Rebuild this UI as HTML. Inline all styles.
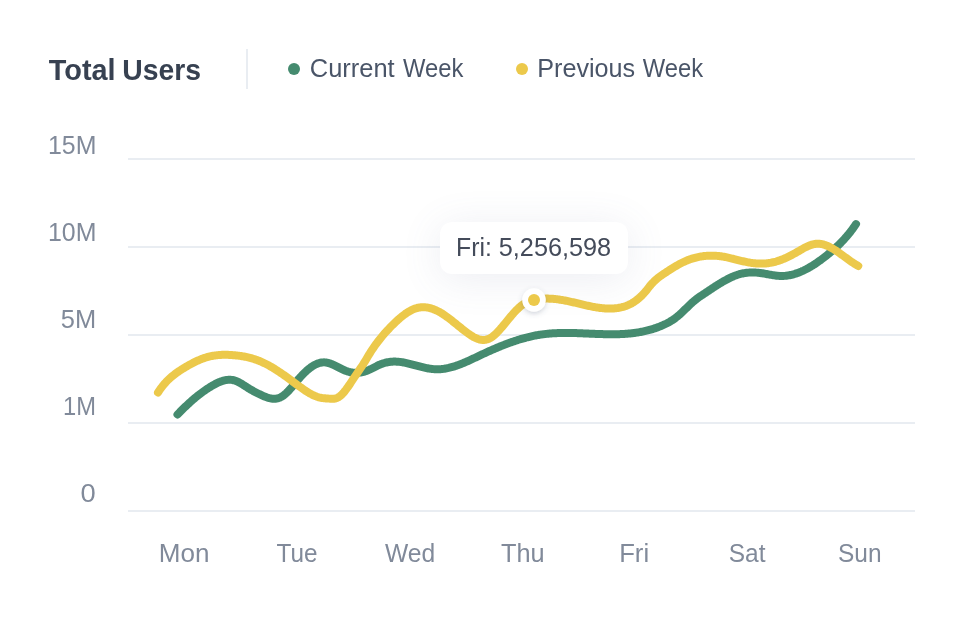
<!DOCTYPE html>
<html><head><meta charset="utf-8">
<style>
html,body{margin:0;padding:0;background:#fff;}
body{width:964px;height:620px;position:relative;overflow:hidden;font-family:"Liberation Sans",sans-serif;}
svg{position:absolute;left:0;top:0;will-change:transform;}
.tip{position:absolute;left:440px;top:222px;width:188px;height:52px;background:#fff;border-radius:12px;
box-shadow:0 5px 40px rgba(95,105,145,0.12);}
</style></head><body>
<svg width="964" height="620" viewBox="0 0 964 620" font-family="Liberation Sans, sans-serif">
<rect x="246" y="49" width="2" height="40" fill="#e9edf2"/>
<circle cx="294" cy="69" r="6" fill="#458b6f"/>
<circle cx="522" cy="69" r="6" fill="#ecc94b"/>
<g fill="#e9edf2">
<rect x="128" y="158" width="787" height="2"/>
<rect x="128" y="246" width="787" height="2"/>
<rect x="128" y="334" width="787" height="2"/>
<rect x="128" y="422" width="787" height="2"/>
<rect x="128" y="510" width="787" height="2"/>
</g>
<text x="48.86" y="79.6" font-size="29.5" font-weight="700" fill="#374151" textLength="66.73" lengthAdjust="spacingAndGlyphs">Total</text>
<text x="122.32" y="79.6" font-size="29.5" font-weight="700" fill="#374151" textLength="78.76" lengthAdjust="spacingAndGlyphs">Users</text>
<text x="309.83" y="76.7" font-size="25" font-weight="400" fill="#4a5568" textLength="84.80" lengthAdjust="spacingAndGlyphs">Current</text>
<text x="403.00" y="76.7" font-size="25" font-weight="400" fill="#4a5568" textLength="60.36" lengthAdjust="spacingAndGlyphs">Week</text>
<text x="537.29" y="76.7" font-size="25" font-weight="400" fill="#4a5568" textLength="97.88" lengthAdjust="spacingAndGlyphs">Previous</text>
<text x="642.70" y="76.7" font-size="25" font-weight="400" fill="#4a5568" textLength="60.36" lengthAdjust="spacingAndGlyphs">Week</text>
<text x="47.96" y="153.9" font-size="25" font-weight="400" fill="#818a9a" textLength="48.42" lengthAdjust="spacingAndGlyphs">15M</text>
<text x="47.96" y="241.2" font-size="25" font-weight="400" fill="#818a9a" textLength="48.42" lengthAdjust="spacingAndGlyphs">10M</text>
<text x="60.78" y="328.0" font-size="25" font-weight="400" fill="#818a9a" textLength="35.34" lengthAdjust="spacingAndGlyphs">5M</text>
<text x="63.04" y="415.1" font-size="25" font-weight="400" fill="#818a9a" textLength="32.94" lengthAdjust="spacingAndGlyphs">1M</text>
<text x="80.61" y="502.0" font-size="25" font-weight="400" fill="#818a9a" textLength="15.18" lengthAdjust="spacingAndGlyphs">0</text>
<text x="158.72" y="562.2" font-size="25" font-weight="400" fill="#818a9a" textLength="50.69" lengthAdjust="spacingAndGlyphs">Mon</text>
<text x="276.51" y="562.2" font-size="25" font-weight="400" fill="#818a9a" textLength="40.97" lengthAdjust="spacingAndGlyphs">Tue</text>
<text x="385.00" y="562.2" font-size="25" font-weight="400" fill="#818a9a" textLength="50.23" lengthAdjust="spacingAndGlyphs">Wed</text>
<text x="500.99" y="562.2" font-size="25" font-weight="400" fill="#818a9a" textLength="43.62" lengthAdjust="spacingAndGlyphs">Thu</text>
<text x="619.15" y="562.2" font-size="25" font-weight="400" fill="#818a9a" textLength="29.96" lengthAdjust="spacingAndGlyphs">Fri</text>
<text x="728.72" y="562.2" font-size="25" font-weight="400" fill="#818a9a" textLength="36.71" lengthAdjust="spacingAndGlyphs">Sat</text>
<text x="838.02" y="562.2" font-size="25" font-weight="400" fill="#818a9a" textLength="43.53" lengthAdjust="spacingAndGlyphs">Sun</text>
<g fill="none" stroke-width="8" stroke-linecap="round" stroke-linejoin="round">
<path d="M177.5,414.49 L178.5,413.46 L179.5,412.43 L180.5,411.41 L181.5,410.41 L182.5,409.41 L183.5,408.43 L184.5,407.46 L185.5,406.50 L186.5,405.55 L187.5,404.61 L188.5,403.69 L189.5,402.77 L190.5,401.87 L191.5,400.99 L192.5,400.11 L193.5,399.25 L194.5,398.40 L195.5,397.56 L196.5,396.74 L197.5,395.93 L198.5,395.14 L199.5,394.36 L200.5,393.59 L201.5,392.84 L202.5,392.10 L203.5,391.37 L204.5,390.66 L205.5,389.97 L206.5,389.29 L207.5,388.63 L208.5,387.98 L209.5,387.35 L210.5,386.73 L211.5,386.13 L212.5,385.54 L213.5,384.98 L214.5,384.43 L215.5,383.90 L216.5,383.39 L217.5,382.90 L218.5,382.45 L219.5,382.02 L220.5,381.62 L221.5,381.26 L222.5,380.93 L223.5,380.63 L224.5,380.38 L225.5,380.17 L226.5,380.00 L227.5,379.87 L228.5,379.80 L229.5,379.77 L230.5,379.80 L231.5,379.88 L232.5,380.01 L233.5,380.21 L234.5,380.46 L235.5,380.78 L236.5,381.16 L237.5,381.60 L238.5,382.09 L239.5,382.62 L240.5,383.19 L241.5,383.79 L242.5,384.41 L243.5,385.05 L244.5,385.70 L245.5,386.34 L246.5,386.98 L247.5,387.61 L248.5,388.23 L249.5,388.84 L250.5,389.43 L251.5,390.01 L252.5,390.58 L253.5,391.14 L254.5,391.69 L255.5,392.22 L256.5,392.74 L257.5,393.25 L258.5,393.75 L259.5,394.23 L260.5,394.71 L261.5,395.17 L262.5,395.62 L263.5,396.05 L264.5,396.47 L265.5,396.87 L266.5,397.24 L267.5,397.58 L268.5,397.88 L269.5,398.15 L270.5,398.37 L271.5,398.55 L272.5,398.67 L273.5,398.73 L274.5,398.74 L275.5,398.68 L276.5,398.55 L277.5,398.36 L278.5,398.08 L279.5,397.73 L280.5,397.30 L281.5,396.78 L282.5,396.17 L283.5,395.47 L284.5,394.70 L285.5,393.84 L286.5,392.92 L287.5,391.94 L288.5,390.91 L289.5,389.83 L290.5,388.71 L291.5,387.56 L292.5,386.38 L293.5,385.19 L294.5,383.99 L295.5,382.78 L296.5,381.57 L297.5,380.38 L298.5,379.20 L299.5,378.05 L300.5,376.92 L301.5,375.83 L302.5,374.77 L303.5,373.74 L304.5,372.74 L305.5,371.78 L306.5,370.86 L307.5,369.98 L308.5,369.14 L309.5,368.34 L310.5,367.58 L311.5,366.87 L312.5,366.20 L313.5,365.59 L314.5,365.02 L315.5,364.50 L316.5,364.03 L317.5,363.62 L318.5,363.27 L319.5,362.97 L320.5,362.73 L321.5,362.54 L322.5,362.42 L323.5,362.37 L324.5,362.37 L325.5,362.44 L326.5,362.58 L327.5,362.77 L328.5,363.01 L329.5,363.30 L330.5,363.64 L331.5,364.02 L332.5,364.43 L333.5,364.86 L334.5,365.33 L335.5,365.81 L336.5,366.31 L337.5,366.82 L338.5,367.33 L339.5,367.85 L340.5,368.36 L341.5,368.86 L342.5,369.35 L343.5,369.82 L344.5,370.27 L345.5,370.69 L346.5,371.08 L347.5,371.43 L348.5,371.74 L349.5,372.01 L350.5,372.24 L351.5,372.43 L352.5,372.58 L353.5,372.70 L354.5,372.77 L355.5,372.81 L356.5,372.82 L357.5,372.78 L358.5,372.71 L359.5,372.60 L360.5,372.46 L361.5,372.29 L362.5,372.08 L363.5,371.83 L364.5,371.56 L365.5,371.25 L366.5,370.91 L367.5,370.54 L368.5,370.13 L369.5,369.70 L370.5,369.24 L371.5,368.75 L372.5,368.25 L373.5,367.73 L374.5,367.21 L375.5,366.70 L376.5,366.19 L377.5,365.69 L378.5,365.22 L379.5,364.77 L380.5,364.35 L381.5,363.97 L382.5,363.61 L383.5,363.29 L384.5,362.99 L385.5,362.72 L386.5,362.48 L387.5,362.28 L388.5,362.10 L389.5,361.94 L390.5,361.82 L391.5,361.72 L392.5,361.66 L393.5,361.62 L394.5,361.60 L395.5,361.61 L396.5,361.65 L397.5,361.71 L398.5,361.79 L399.5,361.89 L400.5,362.01 L401.5,362.15 L402.5,362.30 L403.5,362.47 L404.5,362.66 L405.5,362.86 L406.5,363.07 L407.5,363.29 L408.5,363.53 L409.5,363.77 L410.5,364.02 L411.5,364.27 L412.5,364.53 L413.5,364.80 L414.5,365.07 L415.5,365.34 L416.5,365.61 L417.5,365.87 L418.5,366.14 L419.5,366.41 L420.5,366.67 L421.5,366.92 L422.5,367.17 L423.5,367.41 L424.5,367.64 L425.5,367.86 L426.5,368.07 L427.5,368.27 L428.5,368.45 L429.5,368.62 L430.5,368.77 L431.5,368.91 L432.5,369.02 L433.5,369.12 L434.5,369.20 L435.5,369.25 L436.5,369.29 L437.5,369.29 L438.5,369.28 L439.5,369.24 L440.5,369.18 L441.5,369.10 L442.5,368.99 L443.5,368.87 L444.5,368.72 L445.5,368.56 L446.5,368.38 L447.5,368.17 L448.5,367.96 L449.5,367.72 L450.5,367.47 L451.5,367.20 L452.5,366.92 L453.5,366.62 L454.5,366.31 L455.5,365.98 L456.5,365.64 L457.5,365.29 L458.5,364.93 L459.5,364.55 L460.5,364.17 L461.5,363.77 L462.5,363.37 L463.5,362.96 L464.5,362.54 L465.5,362.11 L466.5,361.67 L467.5,361.23 L468.5,360.78 L469.5,360.33 L470.5,359.87 L471.5,359.41 L472.5,358.94 L473.5,358.47 L474.5,358.00 L475.5,357.53 L476.5,357.05 L477.5,356.58 L478.5,356.10 L479.5,355.63 L480.5,355.16 L481.5,354.69 L482.5,354.22 L483.5,353.75 L484.5,353.29 L485.5,352.82 L486.5,352.37 L487.5,351.91 L488.5,351.46 L489.5,351.01 L490.5,350.56 L491.5,350.12 L492.5,349.68 L493.5,349.24 L494.5,348.81 L495.5,348.38 L496.5,347.96 L497.5,347.54 L498.5,347.12 L499.5,346.71 L500.5,346.30 L501.5,345.90 L502.5,345.50 L503.5,345.10 L504.5,344.71 L505.5,344.33 L506.5,343.95 L507.5,343.57 L508.5,343.20 L509.5,342.83 L510.5,342.47 L511.5,342.12 L512.5,341.77 L513.5,341.43 L514.5,341.09 L515.5,340.76 L516.5,340.43 L517.5,340.11 L518.5,339.80 L519.5,339.49 L520.5,339.19 L521.5,338.89 L522.5,338.60 L523.5,338.32 L524.5,338.04 L525.5,337.78 L526.5,337.51 L527.5,337.26 L528.5,337.01 L529.5,336.77 L530.5,336.54 L531.5,336.31 L532.5,336.09 L533.5,335.88 L534.5,335.68 L535.5,335.49 L536.5,335.30 L537.5,335.12 L538.5,334.95 L539.5,334.79 L540.5,334.63 L541.5,334.49 L542.5,334.35 L543.5,334.22 L544.5,334.10 L545.5,333.98 L546.5,333.87 L547.5,333.77 L548.5,333.67 L549.5,333.59 L550.5,333.50 L551.5,333.43 L552.5,333.36 L553.5,333.30 L554.5,333.24 L555.5,333.19 L556.5,333.14 L557.5,333.10 L558.5,333.06 L559.5,333.03 L560.5,333.01 L561.5,332.99 L562.5,332.97 L563.5,332.96 L564.5,332.95 L565.5,332.95 L566.5,332.95 L567.5,332.95 L568.5,332.96 L569.5,332.97 L570.5,332.98 L571.5,333.00 L572.5,333.02 L573.5,333.04 L574.5,333.07 L575.5,333.09 L576.5,333.12 L577.5,333.15 L578.5,333.19 L579.5,333.22 L580.5,333.26 L581.5,333.30 L582.5,333.34 L583.5,333.38 L584.5,333.42 L585.5,333.46 L586.5,333.50 L587.5,333.54 L588.5,333.59 L589.5,333.63 L590.5,333.67 L591.5,333.72 L592.5,333.76 L593.5,333.80 L594.5,333.84 L595.5,333.88 L596.5,333.92 L597.5,333.96 L598.5,334.00 L599.5,334.03 L600.5,334.06 L601.5,334.10 L602.5,334.12 L603.5,334.15 L604.5,334.18 L605.5,334.20 L606.5,334.22 L607.5,334.23 L608.5,334.25 L609.5,334.26 L610.5,334.26 L611.5,334.27 L612.5,334.27 L613.5,334.26 L614.5,334.25 L615.5,334.24 L616.5,334.22 L617.5,334.20 L618.5,334.17 L619.5,334.14 L620.5,334.10 L621.5,334.06 L622.5,334.01 L623.5,333.96 L624.5,333.90 L625.5,333.83 L626.5,333.76 L627.5,333.68 L628.5,333.59 L629.5,333.50 L630.5,333.40 L631.5,333.29 L632.5,333.18 L633.5,333.05 L634.5,332.92 L635.5,332.79 L636.5,332.64 L637.5,332.49 L638.5,332.32 L639.5,332.15 L640.5,331.97 L641.5,331.78 L642.5,331.58 L643.5,331.38 L644.5,331.16 L645.5,330.93 L646.5,330.69 L647.5,330.45 L648.5,330.19 L649.5,329.92 L650.5,329.64 L651.5,329.35 L652.5,329.05 L653.5,328.74 L654.5,328.41 L655.5,328.08 L656.5,327.73 L657.5,327.37 L658.5,327.00 L659.5,326.62 L660.5,326.22 L661.5,325.81 L662.5,325.39 L663.5,324.95 L664.5,324.49 L665.5,324.01 L666.5,323.52 L667.5,323.00 L668.5,322.46 L669.5,321.90 L670.5,321.31 L671.5,320.69 L672.5,320.05 L673.5,319.38 L674.5,318.67 L675.5,317.94 L676.5,317.17 L677.5,316.37 L678.5,315.53 L679.5,314.66 L680.5,313.76 L681.5,312.83 L682.5,311.89 L683.5,310.93 L684.5,309.96 L685.5,308.98 L686.5,308.01 L687.5,307.03 L688.5,306.06 L689.5,305.10 L690.5,304.16 L691.5,303.23 L692.5,302.33 L693.5,301.46 L694.5,300.61 L695.5,299.80 L696.5,299.01 L697.5,298.26 L698.5,297.54 L699.5,296.83 L700.5,296.14 L701.5,295.47 L702.5,294.81 L703.5,294.15 L704.5,293.49 L705.5,292.83 L706.5,292.16 L707.5,291.50 L708.5,290.83 L709.5,290.17 L710.5,289.50 L711.5,288.84 L712.5,288.18 L713.5,287.52 L714.5,286.87 L715.5,286.22 L716.5,285.58 L717.5,284.94 L718.5,284.32 L719.5,283.70 L720.5,283.08 L721.5,282.48 L722.5,281.89 L723.5,281.31 L724.5,280.74 L725.5,280.19 L726.5,279.65 L727.5,279.12 L728.5,278.61 L729.5,278.11 L730.5,277.63 L731.5,277.17 L732.5,276.73 L733.5,276.30 L734.5,275.90 L735.5,275.51 L736.5,275.15 L737.5,274.81 L738.5,274.49 L739.5,274.20 L740.5,273.93 L741.5,273.69 L742.5,273.47 L743.5,273.27 L744.5,273.10 L745.5,272.94 L746.5,272.81 L747.5,272.71 L748.5,272.62 L749.5,272.55 L750.5,272.50 L751.5,272.48 L752.5,272.47 L753.5,272.48 L754.5,272.51 L755.5,272.55 L756.5,272.62 L757.5,272.70 L758.5,272.79 L759.5,272.90 L760.5,273.03 L761.5,273.17 L762.5,273.32 L763.5,273.48 L764.5,273.65 L765.5,273.83 L766.5,274.02 L767.5,274.20 L768.5,274.39 L769.5,274.57 L770.5,274.75 L771.5,274.93 L772.5,275.10 L773.5,275.26 L774.5,275.41 L775.5,275.55 L776.5,275.67 L777.5,275.77 L778.5,275.86 L779.5,275.92 L780.5,275.96 L781.5,275.98 L782.5,275.97 L783.5,275.93 L784.5,275.87 L785.5,275.79 L786.5,275.68 L787.5,275.55 L788.5,275.40 L789.5,275.22 L790.5,275.02 L791.5,274.80 L792.5,274.55 L793.5,274.28 L794.5,274.00 L795.5,273.69 L796.5,273.36 L797.5,273.01 L798.5,272.64 L799.5,272.25 L800.5,271.84 L801.5,271.42 L802.5,270.97 L803.5,270.51 L804.5,270.02 L805.5,269.52 L806.5,269.01 L807.5,268.47 L808.5,267.92 L809.5,267.36 L810.5,266.77 L811.5,266.17 L812.5,265.56 L813.5,264.93 L814.5,264.29 L815.5,263.63 L816.5,262.96 L817.5,262.27 L818.5,261.57 L819.5,260.86 L820.5,260.14 L821.5,259.40 L822.5,258.65 L823.5,257.89 L824.5,257.12 L825.5,256.34 L826.5,255.55 L827.5,254.74 L828.5,253.93 L829.5,253.11 L830.5,252.27 L831.5,251.43 L832.5,250.57 L833.5,249.69 L834.5,248.80 L835.5,247.90 L836.5,246.97 L837.5,246.03 L838.5,245.07 L839.5,244.09 L840.5,243.09 L841.5,242.06 L842.5,241.02 L843.5,239.95 L844.5,238.85 L845.5,237.72 L846.5,236.57 L847.5,235.40 L848.5,234.19 L849.5,232.95 L850.5,231.68 L851.5,230.38 L852.5,229.04 L853.5,227.67 L854.5,226.27 L855.5,224.83 L856.0,224.10" stroke="#458b6f"/>
<path d="M158.0,392.42 L159.0,390.92 L160.0,389.49 L161.0,388.12 L162.0,386.81 L163.0,385.55 L164.0,384.35 L165.0,383.19 L166.0,382.09 L167.0,381.04 L168.0,380.03 L169.0,379.06 L170.0,378.13 L171.0,377.24 L172.0,376.38 L173.0,375.56 L174.0,374.77 L175.0,374.01 L176.0,373.27 L177.0,372.55 L178.0,371.86 L179.0,371.18 L180.0,370.52 L181.0,369.88 L182.0,369.24 L183.0,368.62 L184.0,368.00 L185.0,367.40 L186.0,366.80 L187.0,366.21 L188.0,365.63 L189.0,365.06 L190.0,364.50 L191.0,363.96 L192.0,363.42 L193.0,362.90 L194.0,362.39 L195.0,361.90 L196.0,361.42 L197.0,360.95 L198.0,360.50 L199.0,360.06 L200.0,359.64 L201.0,359.24 L202.0,358.85 L203.0,358.48 L204.0,358.13 L205.0,357.79 L206.0,357.47 L207.0,357.18 L208.0,356.90 L209.0,356.64 L210.0,356.40 L211.0,356.18 L212.0,355.98 L213.0,355.79 L214.0,355.63 L215.0,355.48 L216.0,355.35 L217.0,355.23 L218.0,355.13 L219.0,355.04 L220.0,354.97 L221.0,354.91 L222.0,354.87 L223.0,354.84 L224.0,354.82 L225.0,354.82 L226.0,354.82 L227.0,354.84 L228.0,354.87 L229.0,354.91 L230.0,354.95 L231.0,355.01 L232.0,355.08 L233.0,355.15 L234.0,355.23 L235.0,355.32 L236.0,355.42 L237.0,355.53 L238.0,355.65 L239.0,355.77 L240.0,355.91 L241.0,356.05 L242.0,356.21 L243.0,356.38 L244.0,356.56 L245.0,356.75 L246.0,356.95 L247.0,357.17 L248.0,357.39 L249.0,357.63 L250.0,357.89 L251.0,358.15 L252.0,358.44 L253.0,358.73 L254.0,359.04 L255.0,359.37 L256.0,359.71 L257.0,360.06 L258.0,360.44 L259.0,360.82 L260.0,361.23 L261.0,361.65 L262.0,362.09 L263.0,362.55 L264.0,363.02 L265.0,363.51 L266.0,364.01 L267.0,364.53 L268.0,365.06 L269.0,365.60 L270.0,366.16 L271.0,366.74 L272.0,367.32 L273.0,367.92 L274.0,368.53 L275.0,369.15 L276.0,369.78 L277.0,370.42 L278.0,371.07 L279.0,371.73 L280.0,372.40 L281.0,373.07 L282.0,373.76 L283.0,374.45 L284.0,375.15 L285.0,375.85 L286.0,376.57 L287.0,377.29 L288.0,378.01 L289.0,378.74 L290.0,379.47 L291.0,380.20 L292.0,380.94 L293.0,381.69 L294.0,382.43 L295.0,383.18 L296.0,383.93 L297.0,384.67 L298.0,385.42 L299.0,386.16 L300.0,386.89 L301.0,387.61 L302.0,388.33 L303.0,389.03 L304.0,389.72 L305.0,390.40 L306.0,391.06 L307.0,391.70 L308.0,392.32 L309.0,392.92 L310.0,393.49 L311.0,394.04 L312.0,394.56 L313.0,395.05 L314.0,395.52 L315.0,395.95 L316.0,396.34 L317.0,396.70 L318.0,397.03 L319.0,397.31 L320.0,397.56 L321.0,397.77 L322.0,397.95 L323.0,398.10 L324.0,398.23 L325.0,398.34 L326.0,398.43 L327.0,398.51 L328.0,398.57 L329.0,398.63 L330.0,398.69 L331.0,398.74 L332.0,398.77 L333.0,398.76 L334.0,398.70 L335.0,398.56 L336.0,398.33 L337.0,397.98 L338.0,397.50 L339.0,396.89 L340.0,396.15 L341.0,395.29 L342.0,394.33 L343.0,393.26 L344.0,392.11 L345.0,390.88 L346.0,389.58 L347.0,388.23 L348.0,386.82 L349.0,385.37 L350.0,383.89 L351.0,382.39 L352.0,380.88 L353.0,379.36 L354.0,377.86 L355.0,376.37 L356.0,374.90 L357.0,373.45 L358.0,372.00 L359.0,370.54 L360.0,369.08 L361.0,367.60 L362.0,366.10 L363.0,364.56 L364.0,362.98 L365.0,361.35 L366.0,359.68 L367.0,357.99 L368.0,356.30 L369.0,354.65 L370.0,353.04 L371.0,351.47 L372.0,349.93 L373.0,348.44 L374.0,346.98 L375.0,345.55 L376.0,344.16 L377.0,342.81 L378.0,341.48 L379.0,340.19 L380.0,338.92 L381.0,337.68 L382.0,336.47 L383.0,335.28 L384.0,334.12 L385.0,332.98 L386.0,331.87 L387.0,330.77 L388.0,329.70 L389.0,328.64 L390.0,327.60 L391.0,326.57 L392.0,325.56 L393.0,324.56 L394.0,323.58 L395.0,322.61 L396.0,321.66 L397.0,320.73 L398.0,319.82 L399.0,318.93 L400.0,318.06 L401.0,317.22 L402.0,316.40 L403.0,315.60 L404.0,314.84 L405.0,314.10 L406.0,313.40 L407.0,312.72 L408.0,312.08 L409.0,311.47 L410.0,310.90 L411.0,310.36 L412.0,309.87 L413.0,309.41 L414.0,308.99 L415.0,308.62 L416.0,308.29 L417.0,308.00 L418.0,307.76 L419.0,307.57 L420.0,307.41 L421.0,307.30 L422.0,307.24 L423.0,307.21 L424.0,307.23 L425.0,307.28 L426.0,307.37 L427.0,307.51 L428.0,307.67 L429.0,307.88 L430.0,308.12 L431.0,308.40 L432.0,308.71 L433.0,309.05 L434.0,309.43 L435.0,309.84 L436.0,310.28 L437.0,310.75 L438.0,311.25 L439.0,311.77 L440.0,312.33 L441.0,312.91 L442.0,313.52 L443.0,314.16 L444.0,314.81 L445.0,315.49 L446.0,316.19 L447.0,316.91 L448.0,317.65 L449.0,318.40 L450.0,319.16 L451.0,319.94 L452.0,320.72 L453.0,321.52 L454.0,322.32 L455.0,323.13 L456.0,323.94 L457.0,324.75 L458.0,325.56 L459.0,326.38 L460.0,327.19 L461.0,327.99 L462.0,328.79 L463.0,329.58 L464.0,330.37 L465.0,331.14 L466.0,331.90 L467.0,332.64 L468.0,333.37 L469.0,334.08 L470.0,334.76 L471.0,335.42 L472.0,336.05 L473.0,336.64 L474.0,337.20 L475.0,337.71 L476.0,338.18 L477.0,338.61 L478.0,338.98 L479.0,339.30 L480.0,339.56 L481.0,339.75 L482.0,339.89 L483.0,339.96 L484.0,339.95 L485.0,339.87 L486.0,339.71 L487.0,339.47 L488.0,339.15 L489.0,338.73 L490.0,338.23 L491.0,337.64 L492.0,336.97 L493.0,336.22 L494.0,335.41 L495.0,334.53 L496.0,333.59 L497.0,332.60 L498.0,331.56 L499.0,330.48 L500.0,329.37 L501.0,328.22 L502.0,327.05 L503.0,325.86 L504.0,324.65 L505.0,323.44 L506.0,322.21 L507.0,320.99 L508.0,319.76 L509.0,318.55 L510.0,317.34 L511.0,316.15 L512.0,314.97 L513.0,313.82 L514.0,312.70 L515.0,311.60 L516.0,310.54 L517.0,309.52 L518.0,308.55 L519.0,307.61 L520.0,306.74 L521.0,305.91 L522.0,305.14 L523.0,304.44 L524.0,303.80 L525.0,303.22 L526.0,302.69 L527.0,302.22 L528.0,301.79 L529.0,301.40 L530.0,301.05 L531.0,300.74 L532.0,300.45 L533.0,300.20 L534.0,299.97 L535.0,299.75 L536.0,299.56 L537.0,299.39 L538.0,299.23 L539.0,299.09 L540.0,298.97 L541.0,298.87 L542.0,298.79 L543.0,298.72 L544.0,298.67 L545.0,298.63 L546.0,298.61 L547.0,298.60 L548.0,298.61 L549.0,298.63 L550.0,298.67 L551.0,298.71 L552.0,298.78 L553.0,298.85 L554.0,298.93 L555.0,299.03 L556.0,299.14 L557.0,299.26 L558.0,299.39 L559.0,299.53 L560.0,299.67 L561.0,299.83 L562.0,300.00 L563.0,300.17 L564.0,300.35 L565.0,300.54 L566.0,300.74 L567.0,300.94 L568.0,301.15 L569.0,301.36 L570.0,301.58 L571.0,301.80 L572.0,302.03 L573.0,302.26 L574.0,302.49 L575.0,302.73 L576.0,302.96 L577.0,303.20 L578.0,303.44 L579.0,303.68 L580.0,303.92 L581.0,304.16 L582.0,304.40 L583.0,304.63 L584.0,304.87 L585.0,305.10 L586.0,305.33 L587.0,305.55 L588.0,305.77 L589.0,305.99 L590.0,306.20 L591.0,306.40 L592.0,306.60 L593.0,306.80 L594.0,306.98 L595.0,307.16 L596.0,307.33 L597.0,307.49 L598.0,307.64 L599.0,307.78 L600.0,307.91 L601.0,308.03 L602.0,308.14 L603.0,308.24 L604.0,308.33 L605.0,308.40 L606.0,308.46 L607.0,308.51 L608.0,308.54 L609.0,308.56 L610.0,308.56 L611.0,308.55 L612.0,308.52 L613.0,308.47 L614.0,308.41 L615.0,308.33 L616.0,308.23 L617.0,308.11 L618.0,307.97 L619.0,307.80 L620.0,307.62 L621.0,307.41 L622.0,307.18 L623.0,306.91 L624.0,306.62 L625.0,306.30 L626.0,305.95 L627.0,305.57 L628.0,305.16 L629.0,304.71 L630.0,304.23 L631.0,303.71 L632.0,303.15 L633.0,302.56 L634.0,301.92 L635.0,301.24 L636.0,300.53 L637.0,299.77 L638.0,298.96 L639.0,298.11 L640.0,297.22 L641.0,296.29 L642.0,295.30 L643.0,294.27 L644.0,293.20 L645.0,292.07 L646.0,290.90 L647.0,289.67 L648.0,288.40 L649.0,287.11 L650.0,285.85 L651.0,284.65 L652.0,283.53 L653.0,282.46 L654.0,281.46 L655.0,280.51 L656.0,279.61 L657.0,278.75 L658.0,277.93 L659.0,277.15 L660.0,276.40 L661.0,275.68 L662.0,274.98 L663.0,274.29 L664.0,273.62 L665.0,272.95 L666.0,272.29 L667.0,271.63 L668.0,270.98 L669.0,270.33 L670.0,269.69 L671.0,269.05 L672.0,268.42 L673.0,267.80 L674.0,267.19 L675.0,266.59 L676.0,266.00 L677.0,265.43 L678.0,264.86 L679.0,264.31 L680.0,263.77 L681.0,263.25 L682.0,262.75 L683.0,262.26 L684.0,261.78 L685.0,261.33 L686.0,260.89 L687.0,260.48 L688.0,260.08 L689.0,259.70 L690.0,259.34 L691.0,258.99 L692.0,258.66 L693.0,258.36 L694.0,258.06 L695.0,257.79 L696.0,257.53 L697.0,257.29 L698.0,257.07 L699.0,256.86 L700.0,256.67 L701.0,256.50 L702.0,256.34 L703.0,256.20 L704.0,256.08 L705.0,255.97 L706.0,255.88 L707.0,255.80 L708.0,255.74 L709.0,255.70 L710.0,255.67 L711.0,255.65 L712.0,255.65 L713.0,255.67 L714.0,255.70 L715.0,255.74 L716.0,255.80 L717.0,255.87 L718.0,255.96 L719.0,256.06 L720.0,256.18 L721.0,256.31 L722.0,256.45 L723.0,256.61 L724.0,256.78 L725.0,256.96 L726.0,257.16 L727.0,257.36 L728.0,257.58 L729.0,257.80 L730.0,258.03 L731.0,258.27 L732.0,258.52 L733.0,258.76 L734.0,259.01 L735.0,259.27 L736.0,259.52 L737.0,259.78 L738.0,260.03 L739.0,260.29 L740.0,260.54 L741.0,260.78 L742.0,261.02 L743.0,261.26 L744.0,261.49 L745.0,261.71 L746.0,261.93 L747.0,262.13 L748.0,262.32 L749.0,262.50 L750.0,262.67 L751.0,262.83 L752.0,262.97 L753.0,263.10 L754.0,263.22 L755.0,263.32 L756.0,263.40 L757.0,263.48 L758.0,263.53 L759.0,263.57 L760.0,263.60 L761.0,263.61 L762.0,263.60 L763.0,263.57 L764.0,263.53 L765.0,263.47 L766.0,263.39 L767.0,263.29 L768.0,263.17 L769.0,263.03 L770.0,262.87 L771.0,262.70 L772.0,262.50 L773.0,262.28 L774.0,262.05 L775.0,261.79 L776.0,261.52 L777.0,261.22 L778.0,260.91 L779.0,260.58 L780.0,260.24 L781.0,259.88 L782.0,259.50 L783.0,259.10 L784.0,258.69 L785.0,258.27 L786.0,257.83 L787.0,257.37 L788.0,256.90 L789.0,256.42 L790.0,255.92 L791.0,255.41 L792.0,254.89 L793.0,254.35 L794.0,253.81 L795.0,253.25 L796.0,252.67 L797.0,252.10 L798.0,251.51 L799.0,250.93 L800.0,250.34 L801.0,249.76 L802.0,249.19 L803.0,248.63 L804.0,248.09 L805.0,247.56 L806.0,247.05 L807.0,246.57 L808.0,246.11 L809.0,245.68 L810.0,245.29 L811.0,244.93 L812.0,244.61 L813.0,244.34 L814.0,244.11 L815.0,243.93 L816.0,243.80 L817.0,243.73 L818.0,243.71 L819.0,243.75 L820.0,243.84 L821.0,243.98 L822.0,244.17 L823.0,244.41 L824.0,244.69 L825.0,245.01 L826.0,245.37 L827.0,245.76 L828.0,246.20 L829.0,246.67 L830.0,247.16 L831.0,247.69 L832.0,248.25 L833.0,248.83 L834.0,249.44 L835.0,250.07 L836.0,250.72 L837.0,251.38 L838.0,252.06 L839.0,252.76 L840.0,253.46 L841.0,254.18 L842.0,254.90 L843.0,255.63 L844.0,256.36 L845.0,257.10 L846.0,257.83 L847.0,258.56 L848.0,259.28 L849.0,260.00 L850.0,260.71 L851.0,261.41 L852.0,262.10 L853.0,262.77 L854.0,263.42 L855.0,264.06 L856.0,264.67 L857.0,265.26 L858.0,265.83 L858.3,265.99" stroke="#ecc94b"/>
</g>
</svg>
<div class="tip"></div>
<svg width="964" height="620" viewBox="0 0 964 620" font-family="Liberation Sans, sans-serif">
<defs>
<filter id="ds2" x="-1" y="-1" width="3" height="3"><feDropShadow dx="0" dy="2" stdDeviation="2.5" flood-color="#505a78" flood-opacity="0.25"/></filter>
</defs>
<text x="456.02" y="255.8" font-size="25" font-weight="400" fill="#444b5a" textLength="35.83" lengthAdjust="spacingAndGlyphs">Fri:</text>
<text x="498.79" y="255.8" font-size="25" font-weight="400" fill="#444b5a" textLength="112.39" lengthAdjust="spacingAndGlyphs">5,256,598</text>
<circle cx="534" cy="300" r="11.8" fill="#fff" filter="url(#ds2)"/>
<circle cx="534" cy="300" r="6" fill="#ecc94b"/>
</svg>
</body></html>
